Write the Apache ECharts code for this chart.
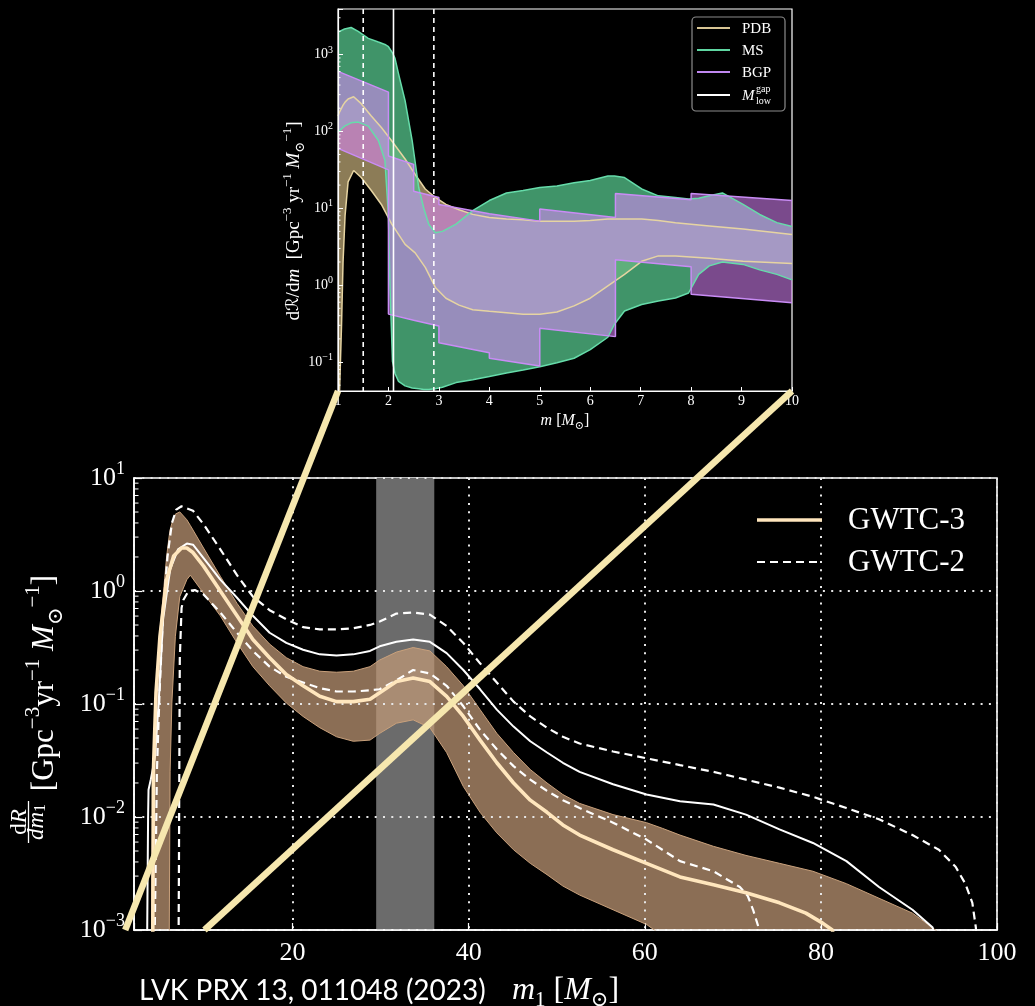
<!DOCTYPE html>
<html>
<head>
<meta charset="utf-8">
<script src="https://cdn.jsdelivr.net/npm/echarts@6/dist/echarts.min.js"></script>
<style>
  html, body { margin: 0; padding: 0; background: #000; }
  #chart { width: 1035px; height: 1006px; }
</style>
</head>
<body>
<div id="chart"></div>
<script>
// ---------------- Inset: low-mass rate density, three population models ----------------
const insetXRange = [1, 10];
const insetYRange = [0.042, 3900];
const insetXTicks = [1, 2, 3, 4, 5, 6, 7, 8, 9, 10];
const insetYTicks = [0.1, 1, 10, 100, 1000];

// PDB (power law + dip + break) 90% band
const pdbMass = [1.0, 1.03, 1.07, 1.1, 1.14, 1.2, 1.31, 1.46, 1.66, 1.86, 2.06, 2.33, 2.53, 2.73, 2.93, 3.14, 3.4, 3.67, 4.0, 4.34, 4.67, 5.0, 5.34, 5.68, 6.0, 6.35, 6.68, 7.02, 7.35, 7.69, 8.36, 9.03, 10.0];
const pdbLow  = [0.01, 0.04, 0.3, 2, 8, 22, 31, 25.1, 17.0, 11.2, 6.31, 3.39, 2.63, 1.70, 0.933, 0.676, 0.550, 0.479, 0.457, 0.437, 0.417, 0.417, 0.447, 0.537, 0.676, 0.977, 1.38, 2.04, 2.40, 2.40, 2.24, 2.04, 1.91];
const pdbHigh = [158, 178, 200, 219, 240, 263, 282, 229, 158, 112, 75.9, 43.7, 27.5, 17.8, 13.8, 11.2, 9.55, 8.32, 7.59, 7.24, 7.08, 6.76, 6.76, 6.76, 6.92, 7.24, 7.24, 7.24, 6.92, 6.46, 5.89, 5.37, 4.57];

// MS (multi source) 90% band
const msMass = [1.0, 1.13, 1.26, 1.4, 1.6, 1.8, 1.93, 2.0, 2.03, 2.08, 2.13, 2.2, 2.33, 2.47, 2.6, 2.7, 2.8, 2.93, 3.07, 3.34, 3.67, 4.0, 4.34, 4.67, 5.0, 5.34, 5.68, 6.0, 6.35, 6.48, 6.68, 7.02, 7.35, 7.69, 7.95, 8.15, 8.36, 8.62, 9.03, 9.36, 9.7, 10.0];
const msLow  = [98, 117, 129, 132, 117, 76, 42, 7.9, 1.0, 0.102, 0.071, 0.056, 0.049, 0.046, 0.045, 0.044, 0.044, 0.045, 0.047, 0.054, 0.059, 0.065, 0.072, 0.079, 0.087, 0.098, 0.112, 0.145, 0.21, 0.31, 0.46, 0.56, 0.62, 0.68, 0.79, 1.38, 1.78, 2.0, 1.86, 1.58, 1.38, 1.17];
const msHigh = [1950, 2140, 2240, 2000, 1620, 1450, 1350, 1260, 1200, 1050, 890, 560, 250, 76, 18.6, 10, 6.2, 4.8, 5.0, 6.2, 9.3, 12.6, 15.8, 17, 18.6, 19.5, 21.4, 22.9, 26.3, 26.3, 25.1, 17.8, 14.5, 13.8, 13.2, 13.5, 14.5, 15.8, 11.2, 8.3, 6.5, 5.8];

// BGP (binned Gaussian process) 90% band, piecewise per bin
const bgpMass = [1, 2, 2, 2.5, 2.5, 3, 3, 4, 4, 5, 5, 6.5, 6.5, 8, 8, 10];
const bgpLow  = [60, 31.6, 0.42, 0.35, 0.35, 0.295, 0.178, 0.132, 0.112, 0.089, 0.275, 0.214, 2.14, 1.74, 0.76, 0.59];
const bgpHigh = [603, 324, 47.9, 37.2, 16.6, 13.8, 11.2, 8.5, 8.5, 6.8, 9.8, 7.6, 15.5, 12.9, 15.5, 12.6];

// Lower edge of the mass gap: median and 90% bounds
const gapLowMedian = [2.1];
const gapLowBounds = [1.5, 2.9];

// ---------------- Main panel: primary-mass rate density ----------------
const mainXRange = [2, 100];
const mainYRange = [0.001, 10];
const mainXTicks = [20, 40, 60, 80, 100];
const mainYTicks = [0.001, 0.01, 0.1, 1, 10];
const peakBand = [29.5, 36.1];

// GWTC-3 90% band
const gwtc3BandMass = [3.95, 4.05, 4.15, 4.5, 4.95, 5.3, 5.7, 5.9, 6.0, 6.1, 6.3, 6.7, 7.2, 8.0, 8.4, 9.9, 11.8, 13.7, 15.5, 17.4, 19.3, 21.2, 23.1, 25, 26.9, 28.8, 29.9, 31.8, 33.7, 35.6, 37.5, 39.4, 41.3, 43.2, 45.1, 47.0, 48.9, 50.7, 52.6, 56.4, 60.2, 62, 64, 67.8, 71.5, 75.3, 79.1, 82.9, 86.6, 90.4, 93.4, 95];
const gwtc3BandHigh = [0.0001, 0.0025, 0.020, 0.141, 0.447, 0.891, 2.0, 2.69, 3.09, 3.47, 3.98, 4.79, 5.01, 4.27, 3.80, 2.40, 1.35, 0.776, 0.490, 0.339, 0.257, 0.214, 0.195, 0.191, 0.195, 0.214, 0.245, 0.288, 0.316, 0.295, 0.214, 0.145, 0.0891, 0.0550, 0.0372, 0.0263, 0.0200, 0.0158, 0.0132, 0.0105, 0.00891, 0.00794, 0.00692, 0.00550, 0.00457, 0.00389, 0.00331, 0.00257, 0.00191, 0.00141, 0.00095, 0.0005];
const gwtc3BandLow  = [0.00001, 0.00001, 0.00001, 0.00001, 0.00001, 0.00001, 0.00001, 0.0001, 0.00079, 0.0251, 0.102, 0.398, 0.891, 1.26, 1.38, 0.955, 0.603, 0.347, 0.214, 0.145, 0.102, 0.0776, 0.0617, 0.0513, 0.0468, 0.0479, 0.0550, 0.0676, 0.0724, 0.0617, 0.0372, 0.0186, 0.0110, 0.00724, 0.00513, 0.00389, 0.00309, 0.00245, 0.00204, 0.00151, 0.00112, 0.00089, 0.0005, 0.00001, 0.00001, 0.00001, 0.00001, 0.00001, 0.00001, 0.00001, 0.00001, 0.00001];

// GWTC-3 median
const gwtc3MedMass = [4.1, 4.15, 4.2, 4.5, 4.95, 5.7, 6.5, 7.4, 8.0, 8.7, 9.9, 11.8, 13.7, 15.5, 17.4, 19.3, 21.2, 23.1, 25, 26.9, 28.8, 29.9, 31.8, 33.7, 35.6, 37.5, 39.4, 41.3, 43.2, 45.1, 47.0, 48.9, 50.7, 52.6, 56.4, 60.2, 64.0, 67.8, 71.5, 75.3, 78.3, 80.2, 81.3, 82];
const gwtc3Median  = [0.0001, 0.0025, 0.0251, 0.126, 0.398, 1.26, 2.04, 2.40, 2.40, 2.19, 1.66, 1.00, 0.603, 0.372, 0.257, 0.182, 0.145, 0.117, 0.105, 0.105, 0.110, 0.126, 0.158, 0.170, 0.158, 0.117, 0.0776, 0.0479, 0.0302, 0.0200, 0.0141, 0.0110, 0.00851, 0.00692, 0.00513, 0.00389, 0.00295, 0.00251, 0.00214, 0.00174, 0.00141, 0.00115, 0.0010, 0.0005];

// GWTC-2 median and 90% bounds
const gwtc2MedMass = [3.45, 3.5, 3.6, 3.65, 3.9, 4.2, 4.4, 4.8, 5.3, 6.1, 7.0, 8.0, 8.7, 9.9, 11.8, 13.7, 15.5, 17.4, 19.3, 21.2, 23.1, 25, 26.9, 28.8, 29.9, 31.8, 33.7, 35.6, 37.5, 39.4, 41.3, 43.2, 45.1, 47.0, 48.9, 50.7, 52.6, 56.4, 60.2, 64.0, 67.8, 71.5, 75.3, 79.1, 82.9, 86.6, 90.4, 92.7, 93.5];
const gwtc2Median  = [0.0005, 0.0010, 0.0100, 0.0174, 0.0214, 0.0282, 0.0355, 0.102, 0.562, 1.55, 2.34, 2.63, 2.57, 1.95, 1.26, 0.871, 0.603, 0.427, 0.347, 0.302, 0.275, 0.269, 0.275, 0.295, 0.324, 0.355, 0.372, 0.355, 0.282, 0.200, 0.135, 0.0891, 0.0631, 0.0468, 0.0372, 0.0302, 0.0251, 0.0195, 0.0158, 0.0138, 0.0129, 0.0105, 0.00776, 0.00589, 0.00407, 0.00240, 0.00151, 0.00105, 0.0005];

const gwtc2HighMass = [4.3, 4.45, 4.6, 4.9, 5.3, 5.8, 6.3, 6.8, 7.4, 8.7, 9.9, 11.8, 13.7, 15.5, 17.4, 19.3, 21.2, 23.1, 25, 26.9, 28.8, 29.9, 31.8, 33.7, 35.6, 37.5, 39.4, 41.3, 43.2, 45.1, 47.0, 48.9, 50.7, 52.6, 56.4, 60.2, 64.0, 67.8, 71.5, 75.3, 79.1, 82.9, 86.6, 90.4, 93.4, 95.3, 96.4, 97.2, 97.6, 97.8];
const gwtc2High     = [0.0005, 0.00316, 0.0251, 0.126, 0.631, 2.00, 3.98, 5.25, 5.62, 5.13, 3.89, 2.34, 1.38, 0.891, 0.676, 0.562, 0.479, 0.457, 0.457, 0.468, 0.501, 0.537, 0.631, 0.646, 0.617, 0.490, 0.347, 0.229, 0.155, 0.105, 0.0776, 0.0617, 0.0513, 0.0447, 0.0380, 0.0331, 0.0288, 0.0251, 0.0214, 0.0182, 0.0151, 0.0120, 0.00955, 0.00692, 0.00513, 0.00363, 0.00257, 0.00174, 0.00105, 0.0005];

const gwtc2LowMass = [7.05, 7.1, 7.15, 7.2, 7.4, 7.6, 8.2, 8.9, 9.9, 11.8, 13.7, 15.5, 17.4, 19.3, 21.2, 23.1, 25, 26.9, 28.8, 29.9, 31.8, 33.7, 35.6, 37.5, 39.4, 41.3, 43.2, 45.1, 47.0, 48.9, 50.7, 52.6, 56.4, 60.2, 64.0, 67.8, 70.8, 71.7, 72.3, 72.9, 73.2];
const gwtc2Low     = [0.0005, 0.00316, 0.0316, 0.251, 0.708, 0.832, 1.00, 1.02, 0.933, 0.646, 0.427, 0.295, 0.214, 0.174, 0.155, 0.138, 0.129, 0.129, 0.132, 0.135, 0.162, 0.200, 0.186, 0.145, 0.0955, 0.0589, 0.0398, 0.0282, 0.0214, 0.0170, 0.0141, 0.0120, 0.00891, 0.00631, 0.00407, 0.00331, 0.00240, 0.00200, 0.00151, 0.00107, 0.0005];

// ---------------- helpers ----------------
const SERIF = "'Liberation Serif', 'DejaVu Serif', serif";
const zip = (xs, ys) => xs.map((x, i) => [x, ys[i]]);

function isTick(v, ticks) {
  return ticks.some(t => Math.abs(Math.log10(v) - Math.log10(t)) < 1e-6);
}
function powLabel(ticks) {
  return v => {
    if (!isTick(v, ticks)) return '';
    const e = Math.round(Math.log10(v));
    return '{b|10}{s|' + (e < 0 ? '\u2212' + (-e) : e) + '}';
  };
}
// minor ticks at 2..9 x 10^n inside an axis range
function logMinor(range) {
  const out = [];
  for (let e = Math.floor(Math.log10(range[0])); e <= Math.ceil(Math.log10(range[1])); e++) {
    for (let k = 2; k <= 9; k++) {
      const v = k * Math.pow(10, e);
      if (v > range[0] && v < range[1]) out.push(v);
    }
  }
  return out;
}

// filled region between two curves, drawn through the axes' own scales
function bandFill(idx, xs, lo, hi, fill, z) {
  return { type: 'custom', xAxisIndex: idx, yAxisIndex: idx, silent: true, z: z, clip: true,
    data: [[xs[0], hi[0]]],
    renderItem: (params, api) => {
      const pts = [];
      for (let i = 0; i < xs.length; i++) pts.push(api.coord([xs[i], hi[i]]));
      for (let i = xs.length - 1; i >= 0; i--) pts.push(api.coord([xs[i], lo[i]]));
      const cs = params.coordSys;
      return { type: 'polygon', shape: { points: pts }, style: { fill: fill },
        clipPath: { type: 'rect', shape: { x: cs.x, y: cs.y, width: cs.width, height: cs.height } } };
    } };
}
function curve(idx, xs, ys, color, width, dashed, z) {
  return { type: 'line', xAxisIndex: idx, yAxisIndex: idx, symbol: 'none', silent: true, z: z,
    data: zip(xs, ys), lineStyle: { color: color, width: width, type: dashed ? [8, 5] : 'solid' } };
}
function band(idx, xs, lo, hi, fill, edge, zFill, edgeWidth) {
  return [
    bandFill(idx, xs, lo, hi, fill, zFill),
    curve(idx, xs, lo, edge, edgeWidth, false, 6),
    curve(idx, xs, hi, edge, edgeWidth, false, 6)
  ];
}
function minorTicks(idx, xMin, range, len) {
  return { type: 'custom', xAxisIndex: idx, yAxisIndex: idx, silent: true, z: 9,
    data: logMinor(range).map(v => [xMin, v]),
    renderItem: (params, api) => {
      const p = api.coord([api.value(0), api.value(1)]);
      const cs = params.coordSys;
      return { type: 'line', shape: { x1: cs.x, y1: p[1], x2: cs.x + len, y2: p[1] },
        style: { stroke: '#fff', lineWidth: 1 } };
    } };
}
function verticalMarks(idx, xs, color, width, dash, z) {
  return { type: 'custom', xAxisIndex: idx, yAxisIndex: idx, silent: true, z: z,
    data: xs.map(x => [x, 1]),
    renderItem: (params, api) => {
      const cs = params.coordSys;
      const px = api.coord([api.value(0), 1])[0];
      return { type: 'line', shape: { x1: px, y1: cs.y, x2: px, y2: cs.y + cs.height },
        style: { stroke: color, lineWidth: width, lineDash: dash } };
    } };
}

const labelRich = (size, supSize, lh) => ({
  b: { fontFamily: SERIF, fontSize: size, color: '#fff', lineHeight: lh },
  s: { fontFamily: SERIF, fontSize: supSize, color: '#fff', verticalAlign: 'top' }
});
const dotted = { color: '#e6e6e6', width: 2, type: [2, 6.3] };

const series = [].concat(
  // inset fills (PDB under MS under BGP), then edges
  band(0, pdbMass, pdbLow, pdbHigh, 'rgba(226,200,140,0.62)', '#e6d4a2', 2, 1.5),
  band(0, msMass, msLow, msHigh, 'rgba(82,190,135,0.78)', '#66dcaa', 3, 1.5),
  band(0, bgpMass, bgpLow, bgpHigh, 'rgba(222,135,255,0.55)', '#c98cf5', 4, 1.5),
  [
    verticalMarks(0, gapLowBounds, '#ffffff', 1.6, [5, 4], 7),
    verticalMarks(0, gapLowMedian, '#ffffff', 1.6, null, 7),
    minorTicks(0, insetXRange[0], insetYRange, 2.5),
    // main panel: shaded peak region
    { type: 'custom', xAxisIndex: 1, yAxisIndex: 1, silent: true, z: 1, data: [peakBand],
      renderItem: (params, api) => {
        const cs = params.coordSys;
        const x0 = api.coord([api.value(0), 1])[0];
        const x1 = api.coord([api.value(1), 1])[0];
        return { type: 'rect', shape: { x: x0, y: cs.y, width: x1 - x0, height: cs.height }, style: { fill: '#6b6b6b' } };
      } }
  ],
  band(1, gwtc3BandMass, gwtc3BandLow, gwtc3BandHigh, 'rgba(192,152,118,0.72)', '#c9a17c', 2, 1),
  [
    curve(1, gwtc2HighMass, gwtc2High, '#ffffff', 2.2, true, 7),
    curve(1, gwtc2LowMass, gwtc2Low, '#ffffff', 2.2, true, 7),
    curve(1, gwtc2MedMass, gwtc2Median, '#ffffff', 2, false, 7),
    curve(1, gwtc3MedMass, gwtc3Median, '#ffe6bd', 3.6, false, 8),
    minorTicks(1, mainXRange[0], mainYRange, 4.5)
  ]
);

const option = {
  backgroundColor: '#000',
  animation: false,
  grid: [
    { left: 338, top: 9, width: 454, height: 382, outerBoundsMode: 'none', containLabel: false,
      show: true, borderColor: '#fff', borderWidth: 1.2, backgroundColor: 'transparent' },
    { left: 134, top: 478, width: 863, height: 452, outerBoundsMode: 'none', containLabel: false,
      show: true, borderColor: '#fff', borderWidth: 1.6, backgroundColor: 'transparent' }
  ],
  xAxis: [
    { type: 'value', gridIndex: 0, min: insetXRange[0], max: insetXRange[1], interval: 1, z: 9,
      axisLine: { show: true, lineStyle: { color: '#fff', width: 1.2 } },
      axisTick: { inside: true, length: 4, lineStyle: { color: '#fff', width: 1 } },
      splitLine: { show: false },
      axisLabel: { color: '#fff', fontFamily: SERIF, fontSize: 14, margin: 3, showMinLabel: true, showMaxLabel: true,
        formatter: v => insetXTicks.includes(v) ? String(v) : '' },
      name: '{i|m} {t|[}{i|M}{sub|\u2299}{t|]}', nameLocation: 'middle', nameGap: 19,
      nameTextStyle: { color: '#fff', fontFamily: SERIF, fontSize: 16,
        rich: { i: { fontFamily: SERIF, fontStyle: 'italic', fontSize: 16, color: '#fff', lineHeight: 22 },
                t: { fontFamily: SERIF, fontSize: 16, color: '#fff', lineHeight: 22 },
                sub: { fontFamily: SERIF, fontSize: 11, color: '#fff', verticalAlign: 'bottom' } } } },
    { type: 'value', gridIndex: 1, min: mainXRange[0], max: mainXRange[1], z: 3,
      axisLine: { show: true, lineStyle: { color: '#fff', width: 1.6 } },
      axisTick: { inside: true, length: 7, lineStyle: { color: '#fff', width: 1.2 } },
      splitLine: { show: true, lineStyle: dotted },
      axisLabel: { color: '#fff', fontFamily: SERIF, fontSize: 26, margin: 10, showMinLabel: true, showMaxLabel: true,
        formatter: v => mainXTicks.some(t => Math.abs(t - v) < 1e-9) ? String(Math.round(v)) : '' },
      name: '{i|m}{sub|1} {t|[}{i|M}{sub|\u2299}{t|]}', nameLocation: 'middle', nameGap: 41,
      nameTextStyle: { color: '#fff', fontFamily: SERIF, fontSize: 32,
        rich: { i: { fontFamily: SERIF, fontStyle: 'italic', fontSize: 32, color: '#fff', lineHeight: 40 },
                t: { fontFamily: SERIF, fontSize: 32, color: '#fff', lineHeight: 40 },
                sub: { fontFamily: SERIF, fontSize: 21, color: '#fff', verticalAlign: 'bottom' } } } }
  ],
  yAxis: [
    { type: 'log', logBase: 10, gridIndex: 0, min: insetYRange[0], max: insetYRange[1], z: 9,
      axisLine: { show: true, lineStyle: { color: '#fff', width: 1.2 } },
      axisTick: { inside: true, length: 5, lineStyle: { color: '#fff', width: 1 } },
      splitLine: { show: false }, minorTick: { show: false },
      axisLabel: { margin: 5, showMinLabel: true, showMaxLabel: true, formatter: powLabel(insetYTicks), rich: labelRich(14, 10, 19) } },
    { type: 'log', logBase: 10, gridIndex: 1, min: mainYRange[0], max: mainYRange[1], z: 3,
      axisLine: { show: true, lineStyle: { color: '#fff', width: 1.6 } },
      axisTick: { inside: true, length: 8, lineStyle: { color: '#fff', width: 1.2 } },
      splitLine: { show: true, lineStyle: dotted }, minorTick: { show: false },
      axisLabel: { margin: 9, showMinLabel: true, showMaxLabel: true, formatter: powLabel(mainYTicks), rich: labelRich(26, 18, 36) } }
  ],
  series: series
};

const chart = echarts.init(document.getElementById('chart'), null, { renderer: 'canvas' });
chart.setOption(option);

// ---------------- annotations: titles, legends, zoom connectors ----------------
const txt = (x, y, text, rich, extra) => Object.assign({
  type: 'text', x: x, y: y, z: 30,
  style: { text: text, rich: rich, fill: '#fff', align: 'center', verticalAlign: 'middle', textAlign: 'center', textVerticalAlign: 'middle' }
}, extra || {});
const sty = (size, italic, va) => ({ fontFamily: SERIF, fontSize: size, fontStyle: italic ? 'italic' : 'normal', fill: '#fff', color: '#fff', verticalAlign: va || 'middle' });

const yTitleRich = {
  t: Object.assign(sty(31, false), { lineHeight: 44 }),
  i: Object.assign(sty(31, true), { lineHeight: 44 }),
  s: sty(21, false, 'top'),
  b: sty(21, false, 'bottom')
};
const fracRich = { u: sty(23, false), i: sty(23, true), b: sty(16, false, 'bottom') };
const insetTitleRich = {
  u: Object.assign(sty(19, false), { lineHeight: 26 }),
  i: Object.assign(sty(19, true), { lineHeight: 26 }),
  r: Object.assign(sty(19, false), { lineHeight: 26, fontFamily: "'DejaVu Serif', 'DejaVu Sans', serif", fontSize: 17 }),
  s: sty(13, false, 'top'),
  b: sty(13, false, 'bottom')
};

const legendLines = [
  { y: 28, color: '#d8c594', label: 'PDB' },
  { y: 50, color: '#5fd6a2', label: 'MS' },
  { y: 72, color: '#c088f0', label: 'BGP' }
];

const graphics = [
  // main y title: fraction and units
  txt(20, 822, '{u|d}{i|R}', fracRich, { rotation: Math.PI / 2 }),
  { type: 'line', z: 30, shape: { x1: 28.5, y1: 801, x2: 28.5, y2: 843 }, style: { stroke: '#fff', lineWidth: 1.3 } },
  txt(37, 822, '{i|dm}{b|1}', fracRich, { rotation: Math.PI / 2 }),
  txt(45, 683, '{t|[Gpc}{s|\u22123}{t|yr}{s|\u22121}{t| }{i|M}{b|\u2299}{s|\u22121}{t|]}', yTitleRich, { rotation: Math.PI / 2 }),
  // inset y title
  txt(294, 221, '{u|d}{r|\u211B}{u|/d}{i|m}{u|  [Gpc}{s|\u22123}{u| yr}{s|\u22121}{u| }{i|M}{b|\u2299}{s|\u22121}{u|]}', insetTitleRich, { rotation: Math.PI / 2 }),
  // citation
  { type: 'text', x: 139, y: 991, z: 30, style: { text: 'LVK PRX 13, 011048 (2023)', fill: '#fff', fontFamily: 'Lato, "Open Sans", sans-serif', fontSize: 28,
      align: 'left', verticalAlign: 'middle', textAlign: 'left', textVerticalAlign: 'middle' } },
  // main legend
  { type: 'line', z: 30, shape: { x1: 757, y1: 520, x2: 822, y2: 520 }, style: { stroke: '#ffe6bd', lineWidth: 3.6 } },
  { type: 'text', x: 848, y: 521, z: 30, style: { text: 'GWTC-3', fill: '#fff', fontFamily: SERIF, fontSize: 31, align: 'left', verticalAlign: 'middle', textAlign: 'left', textVerticalAlign: 'middle' } },
  { type: 'line', z: 30, shape: { x1: 757, y1: 562, x2: 822, y2: 562 }, style: { stroke: '#fff', lineWidth: 2.2, lineDash: [8, 5] } },
  { type: 'text', x: 848, y: 563, z: 30, style: { text: 'GWTC-2', fill: '#fff', fontFamily: SERIF, fontSize: 31, align: 'left', verticalAlign: 'middle', textAlign: 'left', textVerticalAlign: 'middle' } },
  // inset legend
  { type: 'rect', z: 25, shape: { x: 692, y: 17, width: 93, height: 94, r: 4 }, style: { fill: 'rgba(0,0,0,0.85)', stroke: '#8c8c8c', lineWidth: 1.2 } }
];
legendLines.forEach(l => {
  graphics.push({ type: 'line', z: 30, shape: { x1: 697, y1: l.y, x2: 730, y2: l.y }, style: { stroke: l.color, lineWidth: 2 } });
  graphics.push({ type: 'text', x: 742, y: l.y + 1, z: 30, style: { text: l.label, fill: '#fff', fontFamily: SERIF, fontSize: 15, align: 'left', verticalAlign: 'middle', textAlign: 'left', textVerticalAlign: 'middle' } });
});
graphics.push({ type: 'line', z: 30, shape: { x1: 697, y1: 95, x2: 730, y2: 95 }, style: { stroke: '#fff', lineWidth: 2 } });
graphics.push({ type: 'text', x: 742, y: 96, z: 30, style: { text: 'M', fill: '#fff', fontFamily: SERIF, fontStyle: 'italic', fontSize: 15, align: 'left', verticalAlign: 'middle', textAlign: 'left', textVerticalAlign: 'middle' } });
graphics.push({ type: 'text', x: 756, y: 89, z: 30, style: { text: 'gap', fill: '#fff', fontFamily: SERIF, fontSize: 10, align: 'left', verticalAlign: 'middle', textAlign: 'left', textVerticalAlign: 'middle' } });
graphics.push({ type: 'text', x: 756, y: 101, z: 30, style: { text: 'low', fill: '#fff', fontFamily: SERIF, fontSize: 10, align: 'left', verticalAlign: 'middle', textAlign: 'left', textVerticalAlign: 'middle' } });

// connectors from the inset's mass range down to the same masses on the main axis
const finderInset = { xAxisIndex: 0, yAxisIndex: 0 };
const finderMain = { xAxisIndex: 1, yAxisIndex: 1 };
insetXRange.forEach(m => {
  const a = chart.convertToPixel(finderInset, [m, insetYRange[0]]);
  const b = chart.convertToPixel(finderMain, [m, mainYRange[0]]);
  graphics.push({ type: 'line', z: 100, shape: { x1: a[0], y1: a[1], x2: b[0], y2: b[1] },
    style: { stroke: '#f6e7ae', lineWidth: 6.5, lineCap: 'butt' } });
});

chart.setOption({ graphic: graphics });
</script>
</body>
</html>
